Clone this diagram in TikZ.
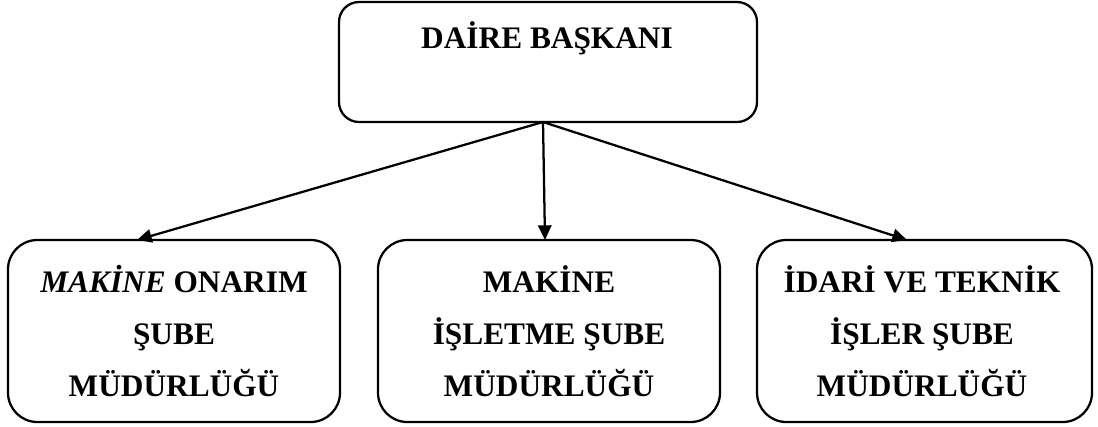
\documentclass[tikz,border=0pt]{standalone}
\usepackage{fontspec}
\setmainfont{Liberation Serif}
\usetikzlibrary{arrows.meta}
\begin{document}
\begin{tikzpicture}[x=0.75pt,y=-0.75pt,
  box/.style={draw=black,line width=1.7pt,rounded corners=#1,inner sep=0pt},
  box/.default=15pt,
  lbl/.style={font=\fontsize{23.5pt}{39pt}\selectfont\bfseries,align=center,inner sep=0pt},
  conn/.style={line width=1.7pt,-{Triangle[length=11pt,width=10pt]}}]
\useasboundingbox (0,0) rectangle (1098,426);
\node[box=15pt,minimum width=418*0.75pt,minimum height=120*0.75pt] (top) at (548,62) {};
\node[lbl,anchor=base] (toptext) at (547,48) {DAİRE BAŞKANI};
\node[box=22pt,minimum width=332*0.75pt,minimum height=182*0.75pt] (b1) at (174,331) {};
\node[box=22pt,minimum width=342*0.75pt,minimum height=182*0.75pt] (b2) at (549,331) {};
\node[box=22pt,minimum width=335*0.75pt,minimum height=182*0.75pt] (b3) at (924.5,331) {};
\node[lbl] (t1) at (b1.center) {\textit{MAKİNE} ONARIM\\ŞUBE\\MÜDÜRLÜĞÜ};
\node[lbl] (t2) at (b2.center) {MAKİNE\\İŞLETME ŞUBE\\MÜDÜRLÜĞÜ};
\node[lbl] (t3) at (922,331) {İDARİ VE TEKNİK\\İŞLER ŞUBE\\MÜDÜRLÜĞÜ};
\coordinate (src) at (543,122);
\coordinate (e1) at (137,240);
\coordinate (e2) at (545,240);
\coordinate (e3) at (907,240);
\draw[conn] (src) -- (e1);
\draw[conn] (src) -- (e2);
\draw[conn] (src) -- (e3);
\end{tikzpicture}
\end{document}
